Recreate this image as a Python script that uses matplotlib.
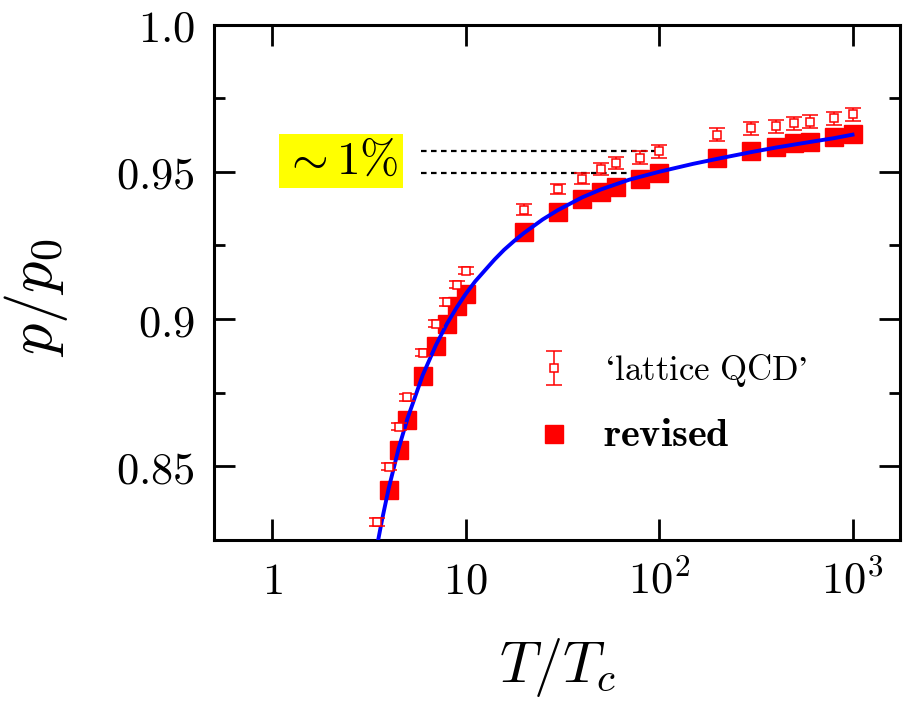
import matplotlib
matplotlib.use("Agg")
import matplotlib.pyplot as plt
import numpy as np

plt.rcParams['mathtext.fontset'] = 'cm'
plt.rcParams['font.family'] = 'serif'
plt.rcParams['font.serif'] = ['DejaVu Serif']

# --- lattice QCD pressure ratio (open squares with error bars) ---
t_lat = [3.5, 4, 4.5, 5, 6, 7, 8, 9, 10,
         20, 30, 40, 50, 60, 80, 100,
         200, 300, 400, 500, 600, 800, 1000]
p_lat = [0.8311, 0.8498, 0.8634, 0.8735, 0.8885, 0.8984, 0.9058, 0.9116, 0.9164,
         0.9371, 0.9441, 0.9477, 0.9509, 0.9529, 0.9548, 0.9570,
         0.9625, 0.9648, 0.9655, 0.9665, 0.9670, 0.9682, 0.9695]
err_lat = [0.0012, 0.0012, 0.0012, 0.0012, 0.0012, 0.0012, 0.0012, 0.0012, 0.0012,
           0.0018, 0.0018, 0.0018, 0.0020, 0.0020, 0.0022, 0.0022,
           0.0022, 0.0022, 0.0022, 0.0022, 0.0022, 0.0022, 0.0022]

# --- revised values (filled squares) ---
t_rev = [4, 4.5, 5, 6, 7, 8, 9, 10,
         20, 30, 40, 50, 60, 80, 100,
         200, 300, 400, 500, 600, 800, 1000]
p_rev = [0.8421, 0.8557, 0.8658, 0.8808, 0.8907, 0.8984, 0.9043, 0.9085,
         0.9297, 0.9365, 0.9407, 0.9433, 0.9450, 0.9475, 0.9495,
         0.9546, 0.9569, 0.9585, 0.9597, 0.9602, 0.9619, 0.9629]

# --- smooth theory curve ---
t_fit = [3.53, 3.7, 4, 4.5, 5, 6, 7, 8, 9, 10, 11.2, 12.6, 14.1, 15.8, 17.8,
         20, 25, 30, 40, 50, 70, 100, 150, 200, 300, 400, 600, 800, 1000]
p_fit = [0.8250, 0.8320, 0.8425, 0.8560, 0.8662, 0.8810, 0.8910, 0.8984, 0.9040,
         0.9085, 0.9128, 0.9166, 0.9202, 0.9235, 0.9265,
         0.9292, 0.9338, 0.9370, 0.9413, 0.9440, 0.9473, 0.9500, 0.9527,
         0.9544, 0.9567, 0.9582, 0.9601, 0.9614, 0.9626]

xticks = [1, 10, 100, 1000]
xticklabels = [r'$1$', r'$10$', r'$10^2$', r'$10^3$']
yticks = [0.85, 0.9, 0.95, 1.0]
yticklabels = [r'$0.85$', r'$0.9$', r'$0.95$', r'$1.0$']

fig = plt.figure(figsize=(9.08, 7.06), dpi=100)
ax = fig.add_axes([214 / 908, 166 / 706, 686 / 908, 515.5 / 706])

ax.plot(t_fit, p_fit, color='#0000ff', lw=2.8, zorder=4)
ax.plot(t_rev, p_rev, 's', color='#ff0000', ms=12.5, mec='#ff0000', zorder=3,
        label=r'$\mathbf{revised}$')
ax.errorbar(t_lat, p_lat, yerr=err_lat, fmt='s', color='#ff0000', ms=5.5,
            mfc='white', mec='#ff0000', mew=1.1, elinewidth=1.1, capsize=6.0,
            capthick=1.1, zorder=5, label=r'$\mathrm{‘lattice\ QCD’}$')

# dashed guides marking the ~1% gap at T/Tc = 100
i100 = t_lat.index(100)
j100 = t_rev.index(100)
for yv in (p_lat[i100], p_rev[j100]):
    ax.plot([5.9, 100], [yv, yv], color='black', lw=1.6, ls=(0, (2.5, 2.0)), zorder=2)

ax.text(2.27, 0.9536, r'$\sim 1\%$', fontsize=34, ha='center', va='center',
        bbox=dict(facecolor='#ffff00', edgecolor='none', pad=3))

ax.set_xscale('log')
ax.set_xlim(0.5, 1760)
ax.set_ylim(0.825, 1.0)
ax.set_xticks(xticks)
ax.set_xticklabels(xticklabels)
ax.xaxis.set_minor_locator(matplotlib.ticker.NullLocator())
ax.set_yticks(yticks)
ax.set_yticklabels(yticklabels)
ax.set_yticks([0.875, 0.925, 0.975], minor=True)

ax.tick_params(which='both', direction='in', top=True, right=True, width=2.0)
ax.tick_params(which='major', length=15, labelsize=32, pad=14)
ax.tick_params(which='minor', length=8)
for s in ax.spines.values():
    s.set_linewidth(2.2)

ax.set_xlabel(r'$T/T_c$', fontsize=42, labelpad=24)
ax.set_ylabel(r'$p/p_0$', fontsize=45)
ax.yaxis.set_label_coords(-0.21, 0.47)

handles, labels = ax.get_legend_handles_labels()
leg = ax.legend(handles[::-1], labels[::-1], loc='upper left',
                bbox_to_anchor=(0.425, 0.425), frameon=False, fontsize=25,
                handlelength=1.0, handletextpad=0.9, labelspacing=0.8, numpoints=1)
leg.get_texts()[1].set_fontsize(29)

fig.savefig('out.png', dpi=100)
